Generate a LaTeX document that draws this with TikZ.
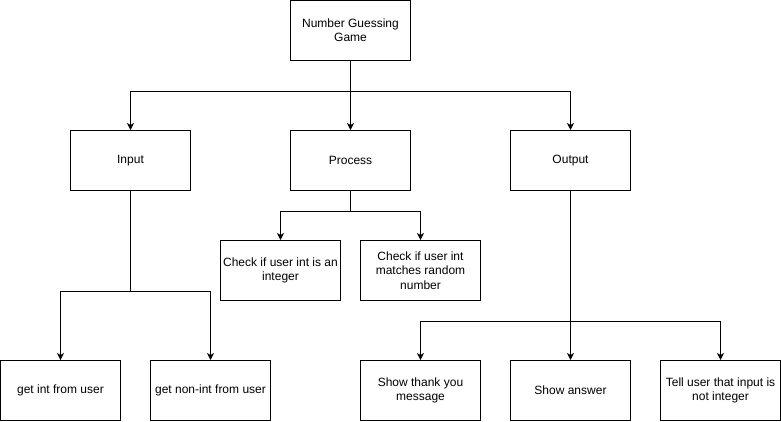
\documentclass[tikz,border=0pt]{standalone}
\usepackage{fontspec}
\setmainfont{Liberation Sans}
\usetikzlibrary{arrows.meta}

\begin{document}
\begin{tikzpicture}[x=1pt, y=-1pt, line width=1pt,
    stepbox/.style={draw, minimum width=120pt, minimum height=60pt, align=center,
        inner sep=1pt, font=\fontsize{12}{14.4}\selectfont},
    arrow/.style={-{Stealth[length=7pt,width=7pt,inset=2pt]}}]
    \useasboundingbox (0,0) rectangle (781,421);

    % Top
    \node[stepbox] (game) at (350.5,30.5) {Number Guessing\\Game};

    % Second row
    \node[stepbox] (input) at (130.5,160.5) {Input};
    \node[stepbox] (process) at (350.5,160.5) {Process};
    \node[stepbox] (output) at (570.5,160.5) {Output};

    % Process checks
    \node[stepbox] (checkint) at (280.5,270.5) {Check if user int is an\\integer};
    \node[stepbox] (checkmatch) at (420.5,270.5) {Check if user int\\matches random\\number};

    % Bottom row
    \node[stepbox] (getint) at (60.5,390.5) {get int from user};
    \node[stepbox] (getnonint) at (210.5,390.5) {get non-int from user};
    \node[stepbox] (thanks) at (420.5,390.5) {Show thank you\\message};
    \node[stepbox] (answer) at (570.5,390.5) {Show answer};
    \node[stepbox] (telluser) at (720.5,390.5) {Tell user that input is\\not integer};

    % Connectors from the game
    \draw[arrow] (game.south) -- ++(0,30) -| (input.north);
    \draw[arrow] (game.south) -- (process.north);
    \draw[arrow] (game.south) -- ++(0,30) -| (output.north);

    % Input
    \draw[arrow] (input.south) -- ++(0,100) -| (getint.north);
    \draw[arrow] (input.south) -- ++(0,100) -| (getnonint.north);

    % Process
    \draw[arrow] (process.south) -- ++(0,20) -| (checkint.north);
    \draw[arrow] (process.south) -- ++(0,20) -| (checkmatch.north);

    % Output
    \draw[arrow] (output.south) -- ++(0,130) -| (thanks.north);
    \draw[arrow] (output.south) -- (answer.north);
    \draw[arrow] (output.south) -- ++(0,130) -| (telluser.north);
\end{tikzpicture}
\end{document}
